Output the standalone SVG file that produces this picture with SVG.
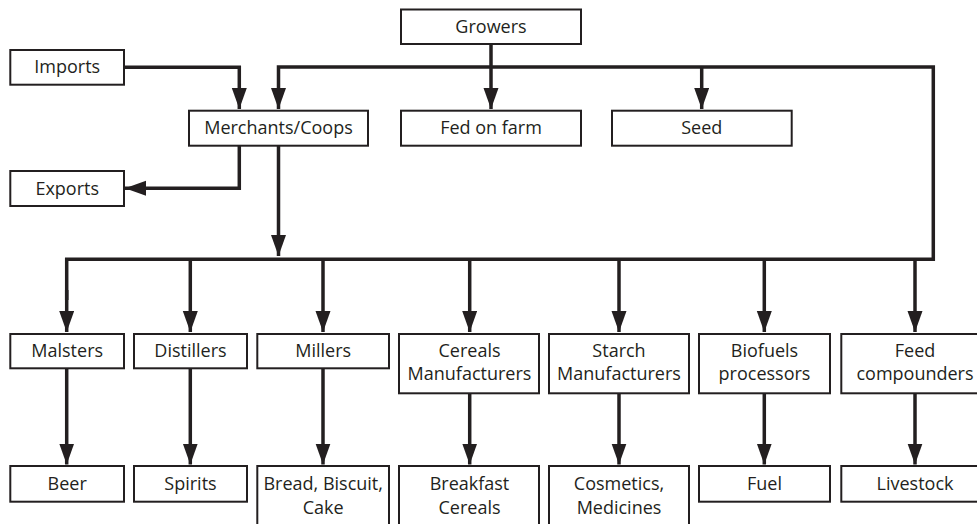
<svg xmlns="http://www.w3.org/2000/svg" width="977" height="524" viewBox="0 0 977 524">
<style>
.box{fill:#fff;stroke:#231f20;stroke-width:2}
.lbl{font-family:"Open Sans","Liberation Sans",sans-serif;font-size:18px;fill:#231f20;text-anchor:middle}
.con{fill:none;stroke:#231f20;stroke-width:3.5;stroke-linejoin:miter;stroke-linecap:butt}
</style>
<defs>
<marker id="ah" markerUnits="userSpaceOnUse" markerWidth="22" markerHeight="16" refX="21" refY="7.5" orient="auto">
<path d="M0,0 L21,7.5 L0,15 z" fill="#231f20"/>
</marker>
</defs>
<rect width="977" height="524" fill="#fff"/>
<g id="connectors">
<path class="con" d="M124,67.3 H239.3 V109" marker-end="url(#ah)"/>
<path class="con" d="M491,44 V109" marker-end="url(#ah)"/>
<path class="con" d="M933.3,261 V67 H278.5 V109" marker-end="url(#ah)"/>
<path class="con" d="M701.7,67 V109" marker-end="url(#ah)"/>
<path class="con" d="M239.3,145.7 V188.3 H125" marker-end="url(#ah)"/>
<path class="con" d="M278.5,145.7 V256" marker-end="url(#ah)"/>
<path class="con" d="M66.7,300 V259.3 H935"/>
<path class="con" d="M66.7,290 V332" marker-end="url(#ah)"/>
<path class="con" d="M190.3,259.3 V332" marker-end="url(#ah)"/>
<path class="con" d="M323,259.3 V332" marker-end="url(#ah)"/>
<path class="con" d="M469.7,259.3 V332" marker-end="url(#ah)"/>
<path class="con" d="M619,259.3 V332" marker-end="url(#ah)"/>
<path class="con" d="M764.3,259.3 V332" marker-end="url(#ah)"/>
<path class="con" d="M915,259.3 V332" marker-end="url(#ah)"/>
<path class="con" d="M66.7,368.3 V464.5" marker-end="url(#ah)"/>
<path class="con" d="M190.3,368.3 V464.5" marker-end="url(#ah)"/>
<path class="con" d="M323,368.3 V464.5" marker-end="url(#ah)"/>
<path class="con" d="M469.7,393.3 V464.5" marker-end="url(#ah)"/>
<path class="con" d="M619,393.3 V464.5" marker-end="url(#ah)"/>
<path class="con" d="M764.3,393.3 V464.5" marker-end="url(#ah)"/>
<path class="con" d="M915,393.3 V464.5" marker-end="url(#ah)"/>
</g>
<g id="growers"><rect class="box" x="401" y="9.5" width="180" height="34.5"/><text class="lbl" x="491" y="33">Growers</text></g>
<g id="imports"><rect class="box" x="10.3" y="50" width="113.7" height="34.7"/><text class="lbl" x="67.2" y="73.3">Imports</text></g>
<g id="merchants"><rect class="box" x="189" y="110.7" width="179" height="35"/><text class="lbl" x="278.5" y="134.3">Merchants/Coops</text></g>
<g id="fedonfarm"><rect class="box" x="401" y="110.7" width="180" height="35"/><text class="lbl" x="491" y="134.3">Fed on farm</text></g>
<g id="seed"><rect class="box" x="612" y="110.7" width="179.7" height="35"/><text class="lbl" x="701.8" y="134.3">Seed</text></g>
<g id="exports"><rect class="box" x="10.3" y="171" width="113.7" height="35"/><text class="lbl" x="67.2" y="194.7">Exports</text></g>
<g id="malsters"><rect class="box" x="10.3" y="334" width="113.7" height="34.3"/><text class="lbl" x="67.2" y="357.3">Malsters</text></g>
<g id="distillers"><rect class="box" x="134" y="334" width="113" height="34.3"/><text class="lbl" x="190.5" y="357.3">Distillers</text></g>
<g id="millers"><rect class="box" x="257.3" y="334" width="131.7" height="34.3"/><text class="lbl" x="323.2" y="357.3">Millers</text></g>
<g id="cereals"><rect class="box" x="399" y="334" width="140" height="59.3"/><text class="lbl" x="469.5" y="357">Cereals</text><text class="lbl" x="469.5" y="380.3">Manufacturers</text></g>
<g id="starch"><rect class="box" x="549" y="334" width="140" height="59.3"/><text class="lbl" x="619" y="357">Starch</text><text class="lbl" x="619" y="380.3">Manufacturers</text></g>
<g id="biofuels"><rect class="box" x="699" y="334" width="131" height="59.3"/><text class="lbl" x="764.5" y="357">Biofuels</text><text class="lbl" x="764.5" y="380.3">processors</text></g>
<g id="feed"><rect class="box" x="841.3" y="334" width="147.4" height="59.3"/><text class="lbl" x="915" y="357">Feed</text><text class="lbl" x="915" y="380.3">compounders</text></g>
<g id="beer"><rect class="box" x="10.3" y="466" width="113.7" height="35.7"/><text class="lbl" x="67.2" y="489.7">Beer</text></g>
<g id="spirits"><rect class="box" x="134" y="466" width="113" height="35.7"/><text class="lbl" x="190.5" y="489.7">Spirits</text></g>
<g id="bread"><rect class="box" x="257.3" y="466" width="131.7" height="70"/><text class="lbl" x="323.2" y="489.7">Bread, Biscuit,</text><text class="lbl" x="323.2" y="513.5">Cake</text></g>
<g id="breakfast"><rect class="box" x="399" y="466" width="140" height="70"/><text class="lbl" x="469.5" y="489.7">Breakfast</text><text class="lbl" x="469.5" y="513.5">Cereals</text></g>
<g id="cosmetics"><rect class="box" x="549" y="466" width="140" height="70"/><text class="lbl" x="619" y="489.7">Cosmetics,</text><text class="lbl" x="619" y="513.5">Medicines</text></g>
<g id="fuel"><rect class="box" x="699" y="466" width="131" height="35.7"/><text class="lbl" x="764.5" y="489.7">Fuel</text></g>
<g id="livestock"><rect class="box" x="841.3" y="466" width="147.4" height="35.7"/><text class="lbl" x="915" y="489.7">Livestock</text></g>
</svg>
